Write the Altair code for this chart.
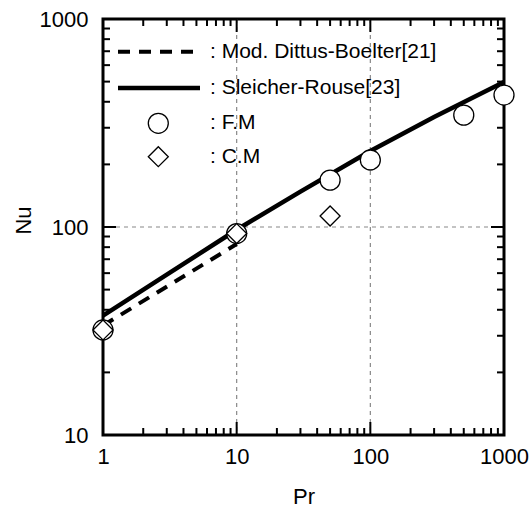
import altair as alt
import pandas as pd

# ---- data ----
pr_fm = [1, 10, 50, 100, 500, 1000]
nu_fm = [32, 93, 168, 210, 345, 431]

pr_cm = [1, 10, 50]
nu_cm = [32, 93, 113]

pr_sr = [1, 3, 10, 30, 100, 300, 1000]
nu_sr = [37.5, 59, 97, 148, 232, 338, 498]

pr_db = [1, 10]
nu_db = [33.6, 82.8]

x_major = [1, 10, 100, 1000]
y_major = [10, 100, 1000]
x_minor = [2, 3, 4, 5, 6, 7, 8, 9, 20, 30, 40, 50, 60, 70, 80, 90,
           200, 300, 400, 500, 600, 700, 800, 900]
y_minor = [20, 30, 40, 50, 60, 70, 80, 90, 200, 300, 400, 500, 600, 700, 800, 900]
x_grid = [10, 100]
y_grid = [100]

legend_labels = [": Mod. Dittus-Boelter[21]", ": Sleicher-Rouse[23]", ": F.M", ": C.M"]
x_title = "Pr"
y_title = "Nu"

# ---- layout / style ----
W, H = 401, 416
FONT = "Liberation Sans"
MAJ, MIN = 13, 7

xs = alt.Scale(type="log", domain=[1, 1000], nice=False)
ys = alt.Scale(type="log", domain=[10, 1000], nice=False)

x_axis = alt.Axis(values=x_major, format="d", labelFlush=False, ticks=False,
                  domain=False, grid=False, labelFont=FONT, labelFontSize=22,
                  labelColor="black", labelPadding=11, title=x_title, titleFont=FONT,
                  titleFontSize=22, titleFontWeight="normal", titleColor="black",
                  titleY=68, titleBaseline="alphabetic")
y_axis = alt.Axis(values=y_major, format="d", labelFlush=False, ticks=False,
                  domain=False, grid=False, labelFont=FONT, labelFontSize=22,
                  labelColor="black", labelPadding=15, title=y_title, titleFont=FONT,
                  titleFontSize=22, titleFontWeight="normal", titleColor="black",
                  titleX=-73, titleY=201, titleBaseline="alphabetic")


def X(field):
    return alt.X(field, scale=xs, axis=x_axis)


def Y(field):
    return alt.Y(field, scale=ys, axis=y_axis)


sr_df = pd.DataFrame({"pr": pr_sr, "nu": nu_sr})
db_df = pd.DataFrame({"pr": pr_db, "nu": nu_db})
fm_df = pd.DataFrame({"pr": pr_fm, "nu": nu_fm})
cm_df = pd.DataFrame({"pr": pr_cm, "nu": nu_cm})

layers = []

sr = alt.Chart(sr_df).mark_line(color="black", strokeWidth=4.5).encode(
    x=X("pr:Q"), y=Y("nu:Q"))
db = alt.Chart(db_df).mark_line(color="black", strokeWidth=4, strokeDash=[12, 9]).encode(
    x=X("pr:Q"), y=Y("nu:Q"))

# grid lines
gx = alt.Chart(pd.DataFrame({"pr": x_grid})).mark_rule(
    color="#888888", strokeWidth=1.2, strokeDash=[4, 4]).encode(x=X("pr:Q"))
gy = alt.Chart(pd.DataFrame({"nu": y_grid})).mark_rule(
    color="#888888", strokeWidth=1.2, strokeDash=[4, 4]).encode(y=Y("nu:Q"))
layers += [gx, gy]


# inward ticks on all four sides
def xticks(vals, length):
    d = pd.DataFrame({"pr": vals})
    bot = alt.Chart(d).mark_rule(color="black", strokeWidth=2).encode(
        x=X("pr:Q"), y=alt.value(H), y2=alt.value(H - length))
    top = alt.Chart(d).mark_rule(color="black", strokeWidth=2).encode(
        x=X("pr:Q"), y=alt.value(0), y2=alt.value(length))
    return [bot, top]


def yticks(vals, length):
    d = pd.DataFrame({"nu": vals})
    left = alt.Chart(d).mark_rule(color="black", strokeWidth=2).encode(
        y=Y("nu:Q"), x=alt.value(0), x2=alt.value(length))
    right = alt.Chart(d).mark_rule(color="black", strokeWidth=2).encode(
        y=Y("nu:Q"), x=alt.value(W), x2=alt.value(W - length))
    return [left, right]


layers += xticks(x_major, MAJ) + xticks(x_minor, MIN)
layers += yticks(y_major, MAJ) + yticks(y_minor, MIN)
layers += [db, sr]

# markers
pt_style = dict(filled=True, fill="white", stroke="black", strokeWidth=1.3, opacity=1, size=400)
fm = alt.Chart(fm_df).mark_point(shape="circle", **pt_style).encode(x=X("pr:Q"), y=Y("nu:Q"))
cm = alt.Chart(cm_df).mark_point(shape="diamond", **pt_style).encode(x=X("pr:Q"), y=Y("nu:Q"))
layers += [fm, cm]

# manual legend
one = pd.DataFrame({"a": [0]})
row_y = [32.7, 69, 104.3, 137.7]
layers.append(alt.Chart(one).mark_rule(color="black", strokeWidth=4, strokeDash=[12, 9]).encode(
    x=alt.value(15), x2=alt.value(97), y=alt.value(row_y[0])))
layers.append(alt.Chart(one).mark_rule(color="black", strokeWidth=4.5).encode(
    x=alt.value(15), x2=alt.value(97), y=alt.value(row_y[1])))
layers.append(alt.Chart(one).mark_point(shape="circle", **pt_style).encode(
    x=alt.value(55.3), y=alt.value(row_y[2])))
layers.append(alt.Chart(one).mark_point(shape="diamond", **pt_style).encode(
    x=alt.value(55.3), y=alt.value(row_y[3])))
for lab, yy in zip(legend_labels, row_y):
    layers.append(alt.Chart(pd.DataFrame({"t": [lab]})).mark_text(
        align="left", baseline="middle", font=FONT, fontSize=21, color="black").encode(
        text="t:N", x=alt.value(107), y=alt.value(yy)))

chart = alt.layer(*layers).properties(
    width=W, height=H,
    autosize=alt.AutoSizeParams(type="none"),
    padding={"left": 103, "top": 19, "right": 25, "bottom": 73},
    background="white",
).configure_view(stroke="black", strokeWidth=3)

chart.save("out.html", embed_options={"renderer": "svg", "actions": False})
